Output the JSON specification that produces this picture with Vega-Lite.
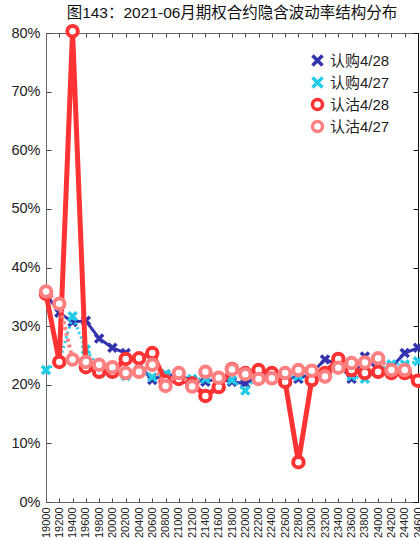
{
  "$schema": "https://vega.github.io/schema/vega-lite/v6.json",
  "autosize": "none",
  "width": 372,
  "height": 469,
  "padding": {"left": 46, "top": 33, "right": 2, "bottom": 38},
  "background": "white",
  "title": {
    "text": "图143：2021-06月期权合约隐含波动率结构分布",
    "font": "Liberation Sans, Noto Sans CJK SC",
    "fontSize": 15.5,
    "fontWeight": "normal",
    "color": "#111111",
    "anchor": "middle",
    "offset": -4
  },
  "config": {
    "view": {"stroke": null},
    "axis": {
      "labelFont": "Liberation Sans",
      "labelColor": "#222222",
      "domainColor": "#444444",
      "tickColor": "#444444",
      "grid": false,
      "title": null
    },
    "legend": {
      "labelFont": "Liberation Sans, Noto Sans CJK SC",
      "labelFontSize": 15,
      "labelColor": "#222222"
    }
  },
  "data": {
    "values": [
      {"k": 19000, "s": "认购4/28", "v": 0.355},
      {"k": 19200, "s": "认购4/28", "v": 0.323},
      {"k": 19400, "s": "认购4/28", "v": 0.307},
      {"k": 19600, "s": "认购4/28", "v": 0.309},
      {"k": 19800, "s": "认购4/28", "v": 0.279},
      {"k": 20000, "s": "认购4/28", "v": 0.263},
      {"k": 20200, "s": "认购4/28", "v": 0.254},
      {"k": 20400, "s": "认购4/28", "v": 0.235},
      {"k": 20600, "s": "认购4/28", "v": 0.208},
      {"k": 20800, "s": "认购4/28", "v": 0.218},
      {"k": 21000, "s": "认购4/28", "v": 0.215},
      {"k": 21200, "s": "认购4/28", "v": 0.208},
      {"k": 21400, "s": "认购4/28", "v": 0.205},
      {"k": 21600, "s": "认购4/28", "v": 0.21},
      {"k": 21800, "s": "认购4/28", "v": 0.205},
      {"k": 22000, "s": "认购4/28", "v": 0.202},
      {"k": 22200, "s": "认购4/28", "v": 0.215},
      {"k": 22400, "s": "认购4/28", "v": 0.215},
      {"k": 22600, "s": "认购4/28", "v": 0.215},
      {"k": 22800, "s": "认购4/28", "v": 0.21},
      {"k": 23000, "s": "认购4/28", "v": 0.22},
      {"k": 23200, "s": "认购4/28", "v": 0.243},
      {"k": 23400, "s": "认购4/28", "v": 0.235},
      {"k": 23600, "s": "认购4/28", "v": 0.21},
      {"k": 23800, "s": "认购4/28", "v": 0.248},
      {"k": 24000, "s": "认购4/28", "v": 0.225},
      {"k": 24200, "s": "认购4/28", "v": 0.23},
      {"k": 24400, "s": "认购4/28", "v": 0.254},
      {"k": 24600, "s": "认购4/28", "v": 0.263},
      {"k": 19000, "s": "认购4/27", "v": 0.225},
      {"k": 19200, "s": "认购4/27", "v": 0.24},
      {"k": 19400, "s": "认购4/27", "v": 0.317},
      {"k": 19600, "s": "认购4/27", "v": 0.26},
      {"k": 19800, "s": "认购4/27", "v": 0.23},
      {"k": 20000, "s": "认购4/27", "v": 0.223},
      {"k": 20200, "s": "认购4/27", "v": 0.215},
      {"k": 20400, "s": "认购4/27", "v": 0.225},
      {"k": 20600, "s": "认购4/27", "v": 0.213},
      {"k": 20800, "s": "认购4/27", "v": 0.218},
      {"k": 21000, "s": "认购4/27", "v": 0.215},
      {"k": 21200, "s": "认购4/27", "v": 0.21},
      {"k": 21400, "s": "认购4/27", "v": 0.21},
      {"k": 21600, "s": "认购4/27", "v": 0.213},
      {"k": 21800, "s": "认购4/27", "v": 0.208},
      {"k": 22000, "s": "认购4/27", "v": 0.19},
      {"k": 22200, "s": "认购4/27", "v": 0.218},
      {"k": 22400, "s": "认购4/27", "v": 0.22},
      {"k": 22600, "s": "认购4/27", "v": 0.215},
      {"k": 22800, "s": "认购4/27", "v": 0.215},
      {"k": 23000, "s": "认购4/27", "v": 0.218},
      {"k": 23200, "s": "认购4/27", "v": 0.22},
      {"k": 23400, "s": "认购4/27", "v": 0.23},
      {"k": 23600, "s": "认购4/27", "v": 0.215},
      {"k": 23800, "s": "认购4/27", "v": 0.21},
      {"k": 24000, "s": "认购4/27", "v": 0.225},
      {"k": 24200, "s": "认购4/27", "v": 0.235},
      {"k": 24400, "s": "认购4/27", "v": 0.235},
      {"k": 24600, "s": "认购4/27", "v": 0.24},
      {"k": 19000, "s": "认沽4/28", "v": 0.355},
      {"k": 19200, "s": "认沽4/28", "v": 0.239},
      {"k": 19400, "s": "认沽4/28", "v": 0.803},
      {"k": 19600, "s": "认沽4/28", "v": 0.23},
      {"k": 19800, "s": "认沽4/28", "v": 0.222},
      {"k": 20000, "s": "认沽4/28", "v": 0.222},
      {"k": 20200, "s": "认沽4/28", "v": 0.244},
      {"k": 20400, "s": "认沽4/28", "v": 0.245},
      {"k": 20600, "s": "认沽4/28", "v": 0.254},
      {"k": 20800, "s": "认沽4/28", "v": 0.206},
      {"k": 21000, "s": "认沽4/28", "v": 0.21},
      {"k": 21200, "s": "认沽4/28", "v": 0.202},
      {"k": 21400, "s": "认沽4/28", "v": 0.181},
      {"k": 21600, "s": "认沽4/28", "v": 0.196},
      {"k": 21800, "s": "认沽4/28", "v": 0.227},
      {"k": 22000, "s": "认沽4/28", "v": 0.22},
      {"k": 22200, "s": "认沽4/28", "v": 0.225},
      {"k": 22400, "s": "认沽4/28", "v": 0.22},
      {"k": 22600, "s": "认沽4/28", "v": 0.205},
      {"k": 22800, "s": "认沽4/28", "v": 0.068},
      {"k": 23000, "s": "认沽4/28", "v": 0.208},
      {"k": 23200, "s": "认沽4/28", "v": 0.22},
      {"k": 23400, "s": "认沽4/28", "v": 0.244},
      {"k": 23600, "s": "认沽4/28", "v": 0.225},
      {"k": 23800, "s": "认沽4/28", "v": 0.22},
      {"k": 24000, "s": "认沽4/28", "v": 0.222},
      {"k": 24200, "s": "认沽4/28", "v": 0.22},
      {"k": 24400, "s": "认沽4/28", "v": 0.22},
      {"k": 24600, "s": "认沽4/28", "v": 0.207},
      {"k": 19000, "s": "认沽4/27", "v": 0.359},
      {"k": 19200, "s": "认沽4/27", "v": 0.338},
      {"k": 19400, "s": "认沽4/27", "v": 0.243},
      {"k": 19600, "s": "认沽4/27", "v": 0.239},
      {"k": 19800, "s": "认沽4/27", "v": 0.234},
      {"k": 20000, "s": "认沽4/27", "v": 0.23},
      {"k": 20200, "s": "认沽4/27", "v": 0.22},
      {"k": 20400, "s": "认沽4/27", "v": 0.222},
      {"k": 20600, "s": "认沽4/27", "v": 0.234},
      {"k": 20800, "s": "认沽4/27", "v": 0.198},
      {"k": 21000, "s": "认沽4/27", "v": 0.22},
      {"k": 21200, "s": "认沽4/27", "v": 0.197},
      {"k": 21400, "s": "认沽4/27", "v": 0.222},
      {"k": 21600, "s": "认沽4/27", "v": 0.212},
      {"k": 21800, "s": "认沽4/27", "v": 0.226},
      {"k": 22000, "s": "认沽4/27", "v": 0.218},
      {"k": 22200, "s": "认沽4/27", "v": 0.21},
      {"k": 22400, "s": "认沽4/27", "v": 0.211},
      {"k": 22600, "s": "认沽4/27", "v": 0.22},
      {"k": 22800, "s": "认沽4/27", "v": 0.225},
      {"k": 23000, "s": "认沽4/27", "v": 0.224},
      {"k": 23200, "s": "认沽4/27", "v": 0.214},
      {"k": 23400, "s": "认沽4/27", "v": 0.229},
      {"k": 23600, "s": "认沽4/27", "v": 0.237},
      {"k": 23800, "s": "认沽4/27", "v": 0.238},
      {"k": 24000, "s": "认沽4/27", "v": 0.245},
      {"k": 24200, "s": "认沽4/27", "v": 0.225},
      {"k": 24400, "s": "认沽4/27", "v": 0.225}
    ]
  },
  "resolve": {"axis": {"x": "independent", "y": "independent"}},
  "encoding": {
    "x": {"field": "k", "type": "quantitative", "scale": {"domain": [19000, 24600], "nice": false, "zero": false}},
    "y": {"field": "v", "type": "quantitative", "scale": {"domain": [0, 0.8], "nice": false}},
    "color": {
      "field": "s",
      "type": "nominal",
      "sort": ["认购4/28", "认购4/27", "认沽4/28", "认沽4/27"],
      "scale": {"domain": ["认购4/28", "认购4/27", "认沽4/28", "认沽4/27"], "range": ["#3333b0", "#22cce6", "#ff3333", "#ff8080"]},
      "legend": {
        "title": null,
        "orient": "none",
        "legendX": 264,
        "legendY": 20,
        "symbolSize": 100,
        "symbolFillColor": "white",
        "symbolStrokeWidth": 3.5,
        "rowPadding": -3,
        "labelOffset": 5,
        "encode": {
          "symbols": {
            "update": {
              "shape": {"signal": "indexof(['认购4/28','认购4/27'], datum.value) >= 0 ? 'M-1,-1L1,1M1,-1L-1,1' : 'circle'"},
              "fill": {"value": "white"},
              "stroke": {"signal": "scale('color', datum.value)"},
              "strokeWidth": {"value": 3.5},
              "size": {"value": 100},
              "opacity": {"value": 1}
            }
          }
        }
      }
    }
  },
  "layer": [
    {
      "transform": [{"filter": "datum.s == '认购4/28'"}],
      "mark": {"type": "line", "strokeWidth": 3},
      "encoding": {
        "x": {"field": "k", "type": "quantitative", "axis": {"orient": "bottom", "values": [19000,19200,19400,19600,19800,20000,20200,20400,20600,20800,21000,21200,21400,21600,21800,22000,22200,22400,22600,22800,23000,23200,23400,23600,23800,24000,24200,24400,24600], "format": "d", "labelAngle": -90, "labelFontSize": 11, "tickSize": -4, "labelPadding": 9, "labelOverlap": false, "labelFlush": false, "domainColor": "#666666"}},
        "y": {"field": "v", "type": "quantitative", "axis": {"orient": "left", "values": [0,0.1,0.2,0.3,0.4,0.5,0.6,0.7,0.8], "format": ".0%", "labelFontSize": 14.5, "tickSize": -5, "labelPadding": 11, "labelFlush": false, "domainColor": "#666666"}}
      }
    },
    {
      "transform": [{"filter": "datum.s == '认购4/28'"}],
      "mark": {"type": "point", "filled": false, "opacity": 1, "size": 64, "strokeWidth": 3.5, "shape": "M-1,-1L1,1M1,-1L-1,1"},
      "encoding": {
        "x": {"field": "k", "type": "quantitative", "axis": {"orient": "top", "values": [19000,19200,19400,19600,19800,20000,20200,20400,20600,20800,21000,21200,21400,21600,21800,22000,22200,22400,22600,22800,23000,23200,23400,23600,23800,24000,24200,24400,24600], "labels": false, "tickSize": -4, "domainColor": "#666666"}},
        "y": {"field": "v", "type": "quantitative", "axis": {"orient": "right", "values": [0,0.1,0.2,0.3,0.4,0.5,0.6,0.7,0.8], "labels": false, "tickSize": -5, "domainColor": "#111111", "tickColor": "#111111"}}
      }
    },
    {
      "transform": [{"filter": "datum.s == '认购4/27'"}],
      "mark": {"type": "line", "strokeWidth": 3, "strokeDash": [2, 3]},
      "encoding": {"x": {"field": "k", "type": "quantitative", "axis": null}, "y": {"field": "v", "type": "quantitative", "axis": null}}
    },
    {
      "transform": [{"filter": "datum.s == '认购4/27'"}],
      "mark": {"type": "point", "filled": false, "opacity": 1, "size": 64, "strokeWidth": 3.5, "shape": "M-1,-1L1,1M1,-1L-1,1"},
      "encoding": {"x": {"field": "k", "type": "quantitative", "axis": null}, "y": {"field": "v", "type": "quantitative", "axis": null}}
    },
    {
      "transform": [{"filter": "datum.s == '认沽4/28'"}],
      "mark": {"type": "line", "strokeWidth": 5},
      "encoding": {"x": {"field": "k", "type": "quantitative", "axis": null}, "y": {"field": "v", "type": "quantitative", "axis": null}}
    },
    {
      "transform": [{"filter": "datum.s == '认沽4/28'"}],
      "mark": {"type": "point", "filled": false, "fill": "white", "fillOpacity": 1, "opacity": 1, "strokeWidth": 4, "size": 110, "shape": "circle"},
      "encoding": {"x": {"field": "k", "type": "quantitative", "axis": null}, "y": {"field": "v", "type": "quantitative", "axis": null}}
    },
    {
      "transform": [{"filter": "datum.s == '认沽4/27'"}],
      "mark": {"type": "line", "strokeWidth": 4, "strokeDash": [3, 3]},
      "encoding": {"x": {"field": "k", "type": "quantitative", "axis": null}, "y": {"field": "v", "type": "quantitative", "axis": null}}
    },
    {
      "transform": [{"filter": "datum.s == '认沽4/27'"}],
      "mark": {"type": "point", "filled": false, "fill": "white", "fillOpacity": 1, "opacity": 1, "strokeWidth": 4, "size": 110, "shape": "circle"},
      "encoding": {"x": {"field": "k", "type": "quantitative", "axis": null}, "y": {"field": "v", "type": "quantitative", "axis": null}}
    }
  ]
}
